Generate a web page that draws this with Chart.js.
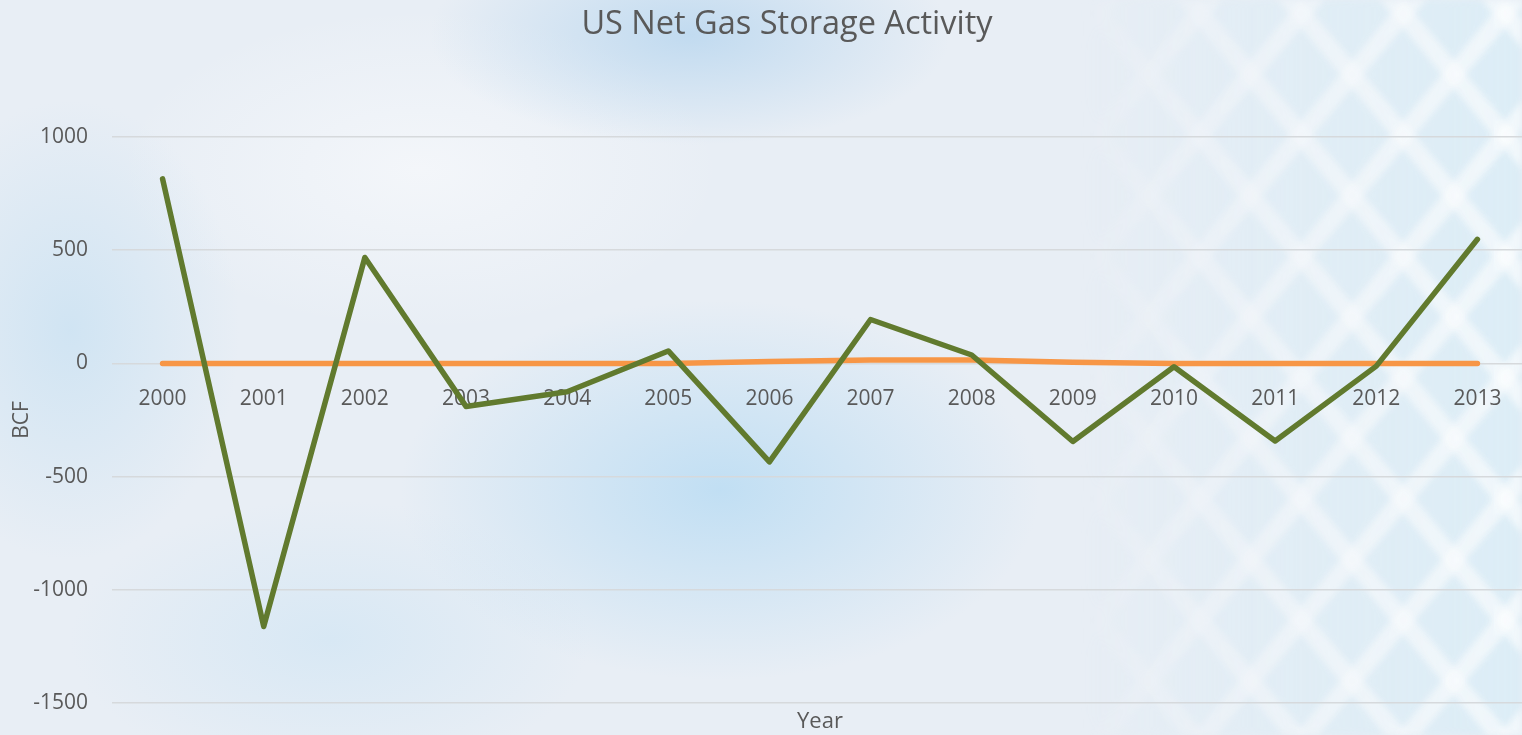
<!DOCTYPE html>
<html>
<head>
<meta charset="utf-8">
<title>US Net Gas Storage Activity</title>
<script src="https://cdn.jsdelivr.net/npm/chart.js@4/dist/chart.umd.min.js"></script>
<style>
    html, body {
        margin: 0;
        padding: 0;
        width: 1522px;
        height: 735px;
        overflow: hidden;
    }
    body {
        position: relative;
        background:
            radial-gradient(ellipse 320px 190px at 720px 490px, rgba(186, 220, 243, 0.85), rgba(186, 220, 243, 0) 100%),
            radial-gradient(ellipse 260px 110px at 690px 35px, rgba(180, 212, 238, 0.75), rgba(180, 212, 238, 0) 100%),
            radial-gradient(ellipse 170px 230px at 70px 330px, rgba(198, 224, 242, 0.7), rgba(198, 224, 242, 0) 100%),
            radial-gradient(ellipse 260px 140px at 330px 640px, rgba(205, 228, 244, 0.6), rgba(205, 228, 244, 0) 100%),
            radial-gradient(ellipse 300px 160px at 420px 170px, rgba(246, 248, 251, 0.8), rgba(246, 248, 251, 0) 100%),
            #e8eef5;
    }
    /* patron de red a la derecha */
    #red {
        position: absolute;
        left: 1080px;
        top: 0;
        width: 442px;
        height: 735px;
        background:
            repeating-linear-gradient(50deg, rgba(255, 255, 255, 0.6) 0 18px, rgba(255, 255, 255, 0) 18px 78px),
            repeating-linear-gradient(-50deg, rgba(255, 255, 255, 0.6) 0 18px, rgba(255, 255, 255, 0) 18px 78px),
            rgba(215, 237, 247, 0.7);
        filter: blur(3px);
        -webkit-mask-image: linear-gradient(to right, transparent 0%, rgba(0,0,0,0.6) 50%, #000 100%);
        mask-image: linear-gradient(to right, transparent 0%, rgba(0,0,0,0.6) 50%, #000 100%);
    }
    #titulo {
        position: absolute;
        left: 787px;
        top: 6px;
        transform: translateX(-50%);
        white-space: nowrap;
        font-family: "Open Sans", "DejaVu Sans", sans-serif;
        font-size: 32.5px;
        line-height: 32px;
        color: #595959;
    }
    #lienzo {
        position: absolute;
        left: 0;
        top: 0;
    }
</style>
</head>
<body>
<div id="red"></div>
<canvas id="lienzo" width="1528" height="735"></canvas>
<div id="titulo">US Net Gas Storage Activity</div>
<script>
// Datos (BCF)
const anios = ['2000', '2001', '2002', '2003', '2004', '2005', '2006',
               '2007', '2008', '2009', '2010', '2011', '2012', '2013'];
const almacenamientoNeto = [815, -1162, 468, -190, -125, 55, -435,
                            194, 37, -345, -15, -343, -12, 548];
const serieNaranja = [0, 0, 0, 0, 0, 0, 8, 15, 15, 5, 0, 0, 0, 0];
const ticksY = [-1500, -1000, -500, 0, 500, 1000];

const COLORES = {
    verde: '#617a2e',
    naranja: '#f79646',
    texto: '#595959',
    rejilla: '#d6d9dc'
};

const fuente = '"Open Sans", "DejaVu Sans", sans-serif';

const ctx = document.getElementById('lienzo').getContext('2d');

new Chart(ctx, {
    type: 'line',
    data: {
        labels: anios,
        datasets: [
            {
                label: 'Net Storage',
                data: almacenamientoNeto,
                borderColor: COLORES.verde,
                borderWidth: 5.5,
                borderCapStyle: 'round',
                borderJoinStyle: 'round',
                pointRadius: 0,
                tension: 0,
                fill: false
            },
            {
                label: 'Series 2',
                data: serieNaranja,
                borderColor: COLORES.naranja,
                borderWidth: 5.5,
                borderCapStyle: 'round',
                borderJoinStyle: 'round',
                pointRadius: 0,
                tension: 0,
                fill: false
            }
        ]
    },
    options: {
        responsive: false,
        animation: false,
        layout: { padding: { left: 0, right: 0, top: 137, bottom: 0 } },
        scales: {
            x: {
                type: 'category',
                offset: true,
                position: { y: 0 },   // las etiquetas cruzan en cero
                grid: { display: false, drawTicks: false },
                border: { display: false },
                ticks: {
                    color: COLORES.texto,
                    font: { family: fuente, size: 21 },
                    padding: 23,
                    autoSkip: false,
                    maxRotation: 0
                }
            },
            // eje sólo para el título "Year" centrado bajo el área de trazado
            xTitulo: {
                type: 'category',
                position: 'bottom',
                offset: true,
                grid: { display: false, drawTicks: false },
                border: { display: false },
                ticks: { display: false },
                title: {
                    display: true,
                    text: 'Year',
                    color: COLORES.texto,
                    font: { family: fuente, size: 22 },
                    padding: { top: 6, bottom: 0 }
                },
                afterFit: (eje) => { eje.height = 32; }
            },
            y: {
                min: -1500,
                max: 1000,
                afterBuildTicks: (eje) => {
                    eje.ticks = ticksY.map(v => ({ value: v }));
                },
                // ancho fijo y sin relleno extra arriba/abajo
                afterFit: (eje) => {
                    eje.width = 112;
                    eje.paddingTop = 0;
                    eje.paddingBottom = 0;
                },
                grid: { color: COLORES.rejilla, lineWidth: 1.5, drawTicks: false },
                border: { display: false },
                ticks: {
                    color: COLORES.texto,
                    font: { family: fuente, size: 21 },
                    padding: 24,
                    callback: (v) => String(v)
                },
                title: {
                    display: true,
                    text: 'BCF',
                    color: COLORES.texto,
                    font: { family: fuente, size: 21 },
                    padding: { top: 9, bottom: 0 }
                }
            }
        },
        plugins: {
            legend: { display: false },
            tooltip: { enabled: false },
            title: { display: false }
        }
    }
});
</script>
</body>
</html>
